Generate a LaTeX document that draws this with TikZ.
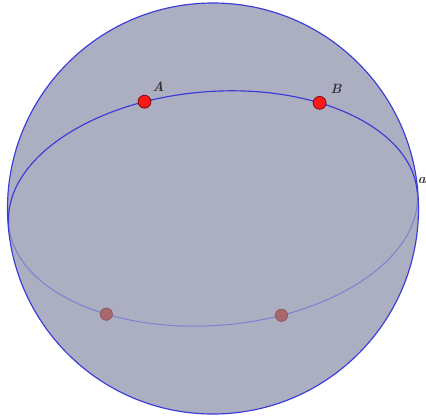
\documentclass[tikz,border=0pt]{standalone}
\usepackage{xcolor}
\definecolor{ballfill}{HTML}{ABAFC1}
\definecolor{ballline}{HTML}{3C3CD8}
\definecolor{backline}{HTML}{7F82D0}
\definecolor{frontpt}{HTML}{FF1A1A}
\definecolor{backpt}{HTML}{A8666E}
\usepackage{tikz}
\usetikzlibrary{positioning}

\begin{document}
\begin{tikzpicture}[scale=0.03,
  rim/.style={draw=ballline,line width=1pt},
  farside/.style={draw=backline,line width=0.9pt},
  dot/.style={circle,draw=red!45!black,fill=frontpt,line width=0.6pt,minimum size=11pt,inner sep=0pt},
  ghost/.style={circle,draw=backpt!80!black,fill=backpt,line width=0.5pt,minimum size=10.5pt,inner sep=0pt},
  lbl/.style={font=\fontsize{11.5}{13}\selectfont\bfseries\itshape,text=black!80,inner sep=0pt}]
\useasboundingbox (0,0) rectangle (426,419);
\coordinate (O) at (213,210.5);
\fill[ballfill] (O) circle (205.5);
\begin{scope}[shift={(O)},rotate=4.5]
\draw[farside] (205,0) arc[start angle=0,end angle=-180,x radius=205,y radius=117];
\node[ghost] (Aback) at ({205*cos(287)},{117*sin(287)}) {};
\node[ghost] (Bback) at ({205*cos(236)},{117*sin(236)}) {};
\draw[rim] (205,0) coordinate (east) arc[start angle=0,end angle=180,x radius=205,y radius=117];
\end{scope}
\draw[rim] (O) circle (205.5);
\begin{scope}[shift={(O)},rotate=4.5]
\node[dot,label={[lbl,label distance=4.5pt]45:A}] (A) at ({205*cos(107)},{117*sin(107)}) {};
\node[dot,label={[lbl,label distance=5pt]40:B}] (B) at ({205*cos(56)},{117*sin(56)}) {};
\end{scope}
\node[lbl,anchor=east] (ea) at (426,238) {a};
\end{tikzpicture}
\end{document}
